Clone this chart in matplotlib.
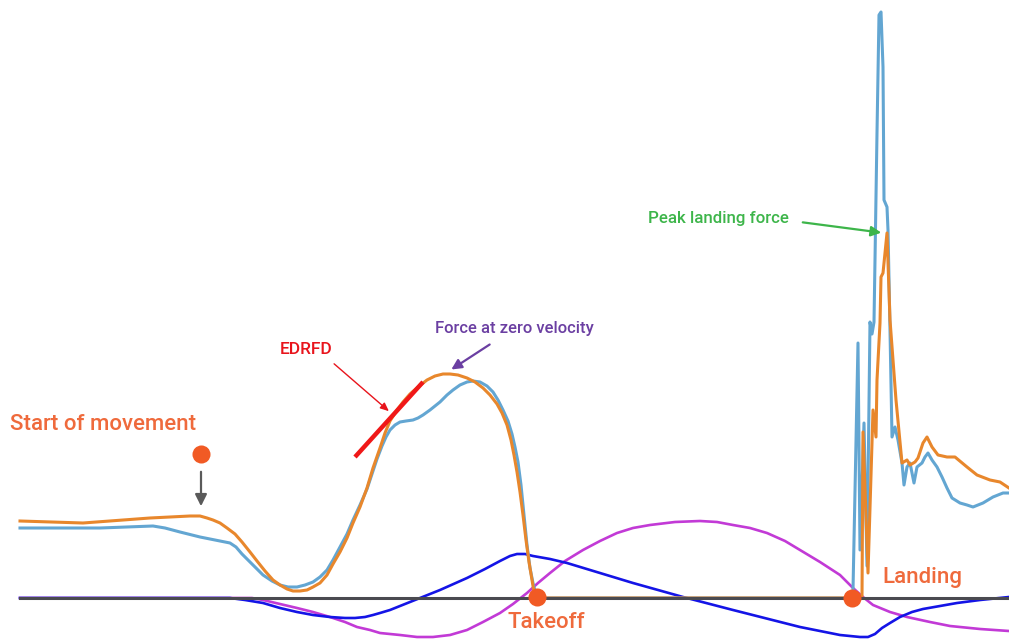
import matplotlib
matplotlib.use("Agg")
import matplotlib.pyplot as plt

# Vertical force, filtered (orange) – x/y in drawing units
force_f_x = [20, 83, 150, 190, 200, 207, 213, 220, 227, 235, 242, 250, 257, 265, 273, 280, 287, 293,
             300, 307, 313, 320, 327, 333, 340, 347, 353, 360, 367, 373, 380, 385, 390, 397, 403,
             410, 418, 427, 435, 443, 450, 458, 467, 475, 483, 490, 497, 502, 507, 511, 514, 517,
             520, 523, 526, 529, 532, 535, 852,
             862, 863, 868, 873, 876, 877, 880, 881, 883, 887, 890, 896, 902, 907, 910, 915, 918,
             923, 927, 932, 938, 947, 955, 967, 977, 990, 1000, 1009]
force_f_y = [521, 523, 518, 516, 516, 518, 520, 523, 528, 534, 542, 552, 561, 571, 580, 585, 589, 591,
             591, 590, 587, 583, 575, 564, 552, 538, 523, 507, 488, 468, 448, 433, 421, 410, 402,
             394, 387, 380, 376, 374, 374, 375, 378, 382, 388, 395, 404, 413, 425, 440, 455, 472,
             492, 515, 540, 562, 580, 598, 598,
             597, 432, 573, 410, 437, 380, 323, 277, 273, 233, 320, 400, 463, 460, 465, 462, 458,
             443, 437, 447, 455, 457, 457, 467, 475, 480, 482, 488]

# Vertical force, raw (light blue)
force_r_x = [20, 100, 153, 165, 180, 200, 215, 230, 236, 242, 250, 257, 263, 272, 280, 288, 297, 305,
             313, 320, 327, 333, 340, 347, 353, 360, 367, 372, 377, 382, 386, 390, 395, 400, 406,
             413, 418, 423, 430, 440, 447, 453, 460, 467, 473, 480, 487, 493, 498, 503, 508, 512,
             515, 518, 521, 524, 527, 530, 533, 537, 851,
             853, 858, 860, 864, 867, 870, 872, 874, 875, 877, 879, 881, 883, 884, 887, 888, 890,
             892, 895, 898, 902, 904, 907, 910, 914, 917, 922, 925, 928, 932, 937, 942, 947, 952,
             960, 967, 973, 983, 993, 1003, 1009]
force_r_y = [528, 528, 526, 528, 532, 537, 540, 543, 547, 554, 562, 569, 575, 581, 585, 587, 587, 585,
             582, 577, 570, 560, 547, 534, 520, 505, 489, 474, 459, 446, 437, 430, 425, 422, 421,
             420, 418, 415, 410, 402, 395, 390, 385, 382, 381, 382, 386, 392, 400, 410, 421, 434,
             447, 462, 485, 515, 545, 568, 583, 598, 598,
             590, 343, 550, 423, 566, 322, 334, 322, 260, 133, 15, 12, 67, 200, 207, 230, 330,
             437, 427, 440, 463, 485, 467, 463, 483, 467, 463, 457, 453, 460, 467, 477, 488, 498,
             503, 505, 507, 503, 497, 493, 493]

# Centre-of-mass velocity (dark blue)
velocity_x = [20, 230, 245, 263, 280, 297, 313, 330, 345, 355, 365, 373, 380, 390, 400, 410, 420,
              440, 467, 485, 500, 510, 517, 525, 533, 550, 567, 600, 633, 683, 733, 800, 840, 860,
              868, 875, 882, 890, 900, 912, 923, 940, 957, 980, 1009]
velocity_y = [598, 598, 600, 603, 608, 612, 615, 617, 618, 618, 617, 615, 613, 610, 606, 602, 598,
              590, 578, 569, 561, 556, 554, 554, 556, 559, 563, 573, 583, 597, 610, 627, 635, 637,
              637, 634, 628, 623, 617, 612, 609, 606, 603, 600, 597]

# Centre-of-mass displacement (purple)
displace_x = [20, 240, 252, 263, 280, 297, 313, 330, 345, 357, 370, 380, 400, 417, 433, 450, 467,
              483, 500, 513, 527, 538, 550, 565, 583, 600, 617, 633, 650, 675, 700, 717, 733, 750,
              767, 785, 800, 820, 840, 853, 863, 873, 890, 907, 930, 950, 980, 1009]
displace_y = [598, 598, 598, 600, 604, 608, 612, 617, 622, 627, 630, 633, 635, 637, 637, 635, 630,
              622, 613, 604, 593, 583, 573, 561, 550, 541, 533, 528, 525, 522, 521, 522, 525, 528,
              533, 541, 550, 562, 575, 588, 597, 605, 612, 617, 622, 626, 629, 631]

# Event markers
start_pt = (201, 454)
takeoff_pt = (537, 597)
landing_pt = (852, 598)
edrfd_x = [355, 423]
edrfd_y = [457, 382]
zero_x = [20, 1009]
zero_y = [598, 598]

ORANGE = "#e8872c"
LBLUE = "#63a6d2"
DBLUE = "#1414e6"
PURPLE = "#c23ad6"
EVENT = "#f15a24"
TXT = "#ef6a3c"
FONT = "Roboto"
W = "medium"

fig = plt.figure(figsize=(10.09, 6.39), dpi=100)
ax = fig.add_axes([0, 0, 1, 1])
ax.set_xlim(0, 1009)
ax.set_ylim(639, 0)
ax.axis("off")

ax.plot(displace_x, displace_y, color=PURPLE, lw=1.9, zorder=2, solid_joinstyle="round")
ax.plot(velocity_x, velocity_y, color=DBLUE, lw=1.9, zorder=2, solid_joinstyle="round")
ax.plot(force_r_x, force_r_y, color=LBLUE, lw=2.2, zorder=3, solid_joinstyle="round")
ax.plot(force_f_x, force_f_y, color=ORANGE, lw=2.2, zorder=4, solid_joinstyle="round")
ax.plot(zero_x, zero_y, color="#4a4a50", lw=2.2, zorder=5)
ax.plot(edrfd_x, edrfd_y, color="#f01818", lw=3.2, zorder=6, solid_capstyle="butt")

for p in (start_pt, takeoff_pt, landing_pt):
    ax.plot(*p, "o", color=EVENT, ms=13, mec="none", zorder=7)

# Start of movement arrow
ax.annotate("", xy=(201, 509), xytext=(201, 469),
            arrowprops=dict(arrowstyle="-|>,head_length=0.7,head_width=0.35",
                            color="#5a5a5a", lw=1.6), zorder=6)

ax.text(10, 425, "Start of movement", color=TXT, fontsize=16, family=FONT, weight=W,
        va="center", ha="left")
ax.text(546, 622, "Takeoff", color=TXT, fontsize=16, family=FONT, weight=W,
        va="center", ha="center")
ax.text(882, 578, "Landing", color=TXT, fontsize=16, family=FONT, weight=W,
        va="center", ha="left")

ax.text(306, 350, "EDRFD", color="#e8141c", fontsize=12.5, family=FONT, weight=W,
        va="center", ha="center")
ax.annotate("", xy=(391, 413), xytext=(332, 362),
            arrowprops=dict(arrowstyle="-|>,head_length=0.5,head_width=0.22",
                            color="#e8141c", lw=1.0), zorder=6)

ax.text(514, 328, "Force at zero velocity", color="#6b3fa2", fontsize=12, family=FONT,
        weight=W, va="center", ha="center")
ax.annotate("", xy=(449, 371), xytext=(492, 343),
            arrowprops=dict(arrowstyle="-|>,head_length=0.6,head_width=0.3",
                            color="#6b3fa2", lw=1.6), zorder=6)

ax.text(718, 218, "Peak landing force", color="#3db54a", fontsize=12.2, family=FONT,
        weight=W, va="center", ha="center")
ax.annotate("", xy=(884, 233), xytext=(800, 222),
            arrowprops=dict(arrowstyle="-|>,head_length=0.6,head_width=0.3",
                            color="#3db54a", lw=1.6), zorder=8)

fig.savefig("out.png", dpi=100)
